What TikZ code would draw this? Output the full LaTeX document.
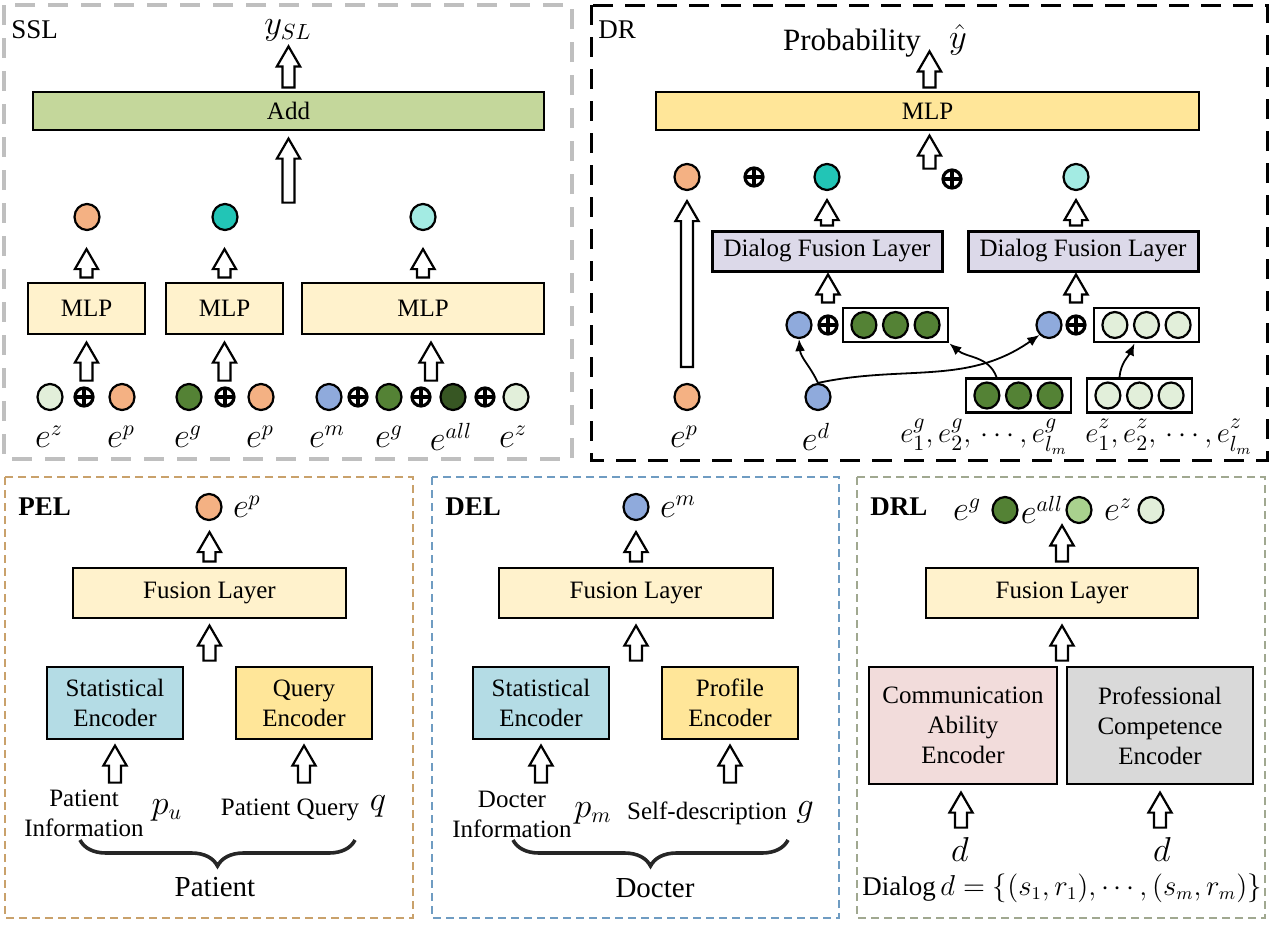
\documentclass[tikz,border=0pt]{standalone}
\usepackage{fontspec}
\setmainfont{Liberation Serif}
\usetikzlibrary{
  arrows.meta, positioning, calc, decorations.pathreplacing,
  shapes.geometric
}
\definecolor{embpeach}{HTML}{F4B183}
\definecolor{embteal}{HTML}{22C5B6}
\definecolor{embaqua}{HTML}{A3EBE3}
\definecolor{embpale}{HTML}{E2EFDA}
\definecolor{embgreen}{HTML}{548235}
\definecolor{embdark}{HTML}{375623}
\definecolor{embmid}{HTML}{A9D18E}
\definecolor{embblue}{HTML}{8FAADC}
\definecolor{boxcream}{HTML}{FFF2CC}
\definecolor{boxgold}{HTML}{FFE699}
\definecolor{boxolive}{HTML}{C4D79B}
\definecolor{boxlilac}{HTML}{DCD9E9}
\definecolor{boxsky}{HTML}{B4DCE5}
\definecolor{boxrose}{HTML}{F2DCDB}
\definecolor{boxgray}{HTML}{D9D9D9}
\definecolor{sslline}{HTML}{BFBFBF}
\definecolor{pelline}{HTML}{C9A16B}
\definecolor{delline}{HTML}{6F9CC2}
\definecolor{drlline}{HTML}{A0A890}

\begin{document}
\begin{tikzpicture}[x=0.5pt, y=-0.5pt,
  block/.style={draw, line width=0.6pt, inner sep=0pt, align=center,
    font=\fontsize{12.5}{15}\selectfont},
  emb/.style={ellipse, draw, line width=1.1pt, minimum width=12.5pt,
    minimum height=13pt, inner sep=0pt},
  addop/.style={circle, draw, line width=1.6pt, minimum size=9pt,
    inner sep=0pt,
    path picture={\draw[line width=1.6pt]
      (path picture bounding box.north) -- (path picture bounding box.south)
      (path picture bounding box.west) -- (path picture bounding box.east);}},
  harrow/.style={draw, fill=white, line width=1.1pt,
    to path={let \p1=(\tikztostart), \p2=(\tikztotarget) in
      (\x1-3pt,\y1) -- (\x1-3pt,\y2-10pt) -- (\x1-5.8pt,\y2-10pt)
      -- (\x1,\y2) -- (\x1+5.8pt,\y2-10pt) -- (\x1+3pt,\y2-10pt)
      -- (\x1+3pt,\y1) -- cycle}},
  link/.style={-{Latex[length=6pt, width=5pt]}, line width=0.9pt},
  lab/.style={inner sep=0pt, font=\fontsize{16}{18}\selectfont},
  txt/.style={inner sep=0pt, align=center,
    font=\fontsize{12.5}{15}\selectfont},
  tag/.style={anchor=west, inner sep=0pt,
    font=\fontsize{13.5}{16}\selectfont},
  grp/.style={draw, line width=1.4pt, minimum width=52.5pt,
    minimum height=17pt, inner sep=0pt},
  brc/.style={decorate, decoration={brace, amplitude=13pt, mirror},
    line width=1.8pt, draw=black!85},
  panel/.style={line width=0.6pt, dash pattern=on 4pt off 2.5pt}
]
  \useasboundingbox (0,0) rectangle (1274,926);

  % SSL
  \draw[sslline, line width=1.7pt, dash pattern=on 10pt off 6.5pt]
    (4,5) rectangle (572,459);
  \node[tag] (ssltag) at (11,30) {SSL};
  \node[lab] (ysl) at (288,30) {$y_{SL}$};
  \node[block, fill=boxolive, minimum width=255.5pt, minimum height=19pt]
    (add) at (288.5,111) {Add};
  \node[block, fill=boxcream, minimum width=58.5pt, minimum height=25.5pt]
    (smlp1) at (86.5,308.5) {MLP};
  \node[block, fill=boxcream, minimum width=58.5pt, minimum height=25.5pt]
    (smlp2) at (224.5,308.5) {MLP};
  \node[block, fill=boxcream, minimum width=121pt, minimum height=25.5pt]
    (smlp3) at (423,308.5) {MLP};
  \node[emb, fill=embpeach] (so1) at (87,217) {};
  \node[emb, fill=embteal] (so2) at (225,217) {};
  \node[emb, fill=embaqua] (so3) at (423,217) {};

  \node[emb, fill=embpale] (si1) at (50,397) {};
  \node[addop] (sp1) at (84,397) {};
  \node[emb, fill=embpeach] (si2) at (122,397) {};
  \node[emb, fill=embgreen] (si3) at (189,397) {};
  \node[addop] (sp2) at (225,397) {};
  \node[emb, fill=embpeach] (si4) at (261,397) {};
  \node[emb, fill=embblue] (si5) at (329,397) {};
  \node[addop] (sp3) at (358,397) {};
  \node[emb, fill=embgreen] (si6) at (389,397) {};
  \node[addop] (sp4) at (421,397) {};
  \node[emb, fill=embdark] (si7) at (453,397) {};
  \node[addop] (sp5) at (485,397) {};
  \node[emb, fill=embpale] (si8) at (516,397) {};

  \node[lab] (sl1) at (49,437) {$e^z$};
  \node[lab] (sl2) at (121,437) {$e^p$};
  \node[lab] (sl3) at (188,437) {$e^g$};
  \node[lab] (sl4) at (260,437) {$e^p$};
  \node[lab] (sl5) at (327,437) {$e^m$};
  \node[lab] (sl6) at (389,437) {$e^g$};
  \node[lab] (sl7) at (451,437) {$e^{all}$};
  \node[lab] (sl8) at (513,437) {$e^z$};

  \draw[harrow] ([yshift=2pt]add.north) to ([yshift=22.5pt]add.north);
  \draw[harrow] ([yshift=-36pt]add.south) to ([yshift=-4pt]add.south);
  \draw[harrow] ([yshift=2.5pt]smlp1.north) to ([yshift=-9pt]so1.south);
  \draw[harrow] ([yshift=2.5pt]smlp2.north) to ([yshift=-9pt]so2.south);
  \draw[harrow] ([yshift=2.5pt]smlp3.north) to ([yshift=-9pt]so3.south);
  \draw[harrow] ([yshift=-23pt]smlp1.south) to ([yshift=-4pt]smlp1.south);
  \draw[harrow] ([yshift=-23pt]smlp2.south) to ([yshift=-4pt]smlp2.south);
  \draw[harrow] ([xshift=4pt,yshift=-23pt]smlp3.south)
    to ([xshift=4pt,yshift=-4pt]smlp3.south);

  % DR
  \draw[black, line width=1.5pt, dash pattern=on 10pt off 6pt]
    (591,5) rectangle (1267,460);
  \node[tag] (drtag) at (598,30) {DR};
  \node[inner sep=0pt, font=\fontsize{15.5}{18}\selectfont]
    (prob) at (852,43) {Probability};
  \node[lab, font=\fontsize{17}{19}\selectfont] (yhat) at (958,40) {$\hat{y}$};
  \node[block, fill=boxgold, minimum width=271.5pt, minimum height=19pt]
    (dmlp) at (927.5,111) {MLP};
  \draw[harrow] ([xshift=1pt,yshift=2pt]dmlp.north)
    to ([xshift=1pt,yshift=20pt]dmlp.north);
  \draw[harrow] ([xshift=1pt,yshift=-19pt]dmlp.south)
    to ([xshift=1pt,yshift=-2.5pt]dmlp.south);

  \node[emb, fill=embpeach] (dpout) at (687,177) {};
  \node[addop] (dplus1) at (754,177) {};
  \node[emb, fill=embteal] (dteal) at (827,177) {};
  \node[addop] (dplus2) at (952,179) {};
  \node[emb, fill=embaqua] (daqua) at (1076,177) {};

  \node[block, fill=boxlilac, line width=1.5pt, minimum width=115pt,
    minimum height=20pt] (dfl1) at (827,251) {Dialog Fusion Layer};
  \node[block, fill=boxlilac, line width=1.5pt, minimum width=115pt,
    minimum height=20pt] (dfl2) at (1083,251) {Dialog Fusion Layer};
  \draw[harrow] ([yshift=2pt]dfl1.north) to ([yshift=-4.5pt]dteal.south);
  \draw[harrow] ([yshift=2pt]daqua.south |- dfl2.north)
    to ([yshift=-4.5pt]daqua.south);

  \node[emb, fill=embblue] (dblue1) at (799,325) {};
  \node[addop] (dplus3) at (828,325) {};
  \node[grp] (gbox1) at (895.5,325) {};
  \foreach \i in {-1,0,1}
    \node[emb, fill=embgreen] at ([xshift=\i*15.8pt]gbox1.center) {};
  \node[emb, fill=embblue] (dblue2) at (1049,325) {};
  \node[addop] (dplus4) at (1076,325) {};
  \node[grp] (lbox1) at (1146.5,325) {};
  \foreach \i in {-1,0,1}
    \node[emb, fill=embpale] at ([xshift=\i*15.8pt]lbox1.center) {};
  \draw[harrow] ([yshift=6pt]dplus3.north) to ([yshift=-1pt]dfl1.south);
  \draw[harrow] ([yshift=6pt]dplus4.north)
    to ([yshift=-1pt]dplus4.north |- dfl2.south);

  \node[emb, fill=embpeach] (dpin) at (687,397) {};
  \node[emb, fill=embblue] (ed) at (818,397) {};
  \node[grp] (gbox2) at (1018.5,395.5) {};
  \foreach \i in {-1,0,1}
    \node[emb, fill=embgreen] at ([xshift=\i*15.8pt]gbox2.center) {};
  \node[grp] (lbox2) at (1139.5,395.5) {};
  \foreach \i in {-1,0,1}
    \node[emb, fill=embpale] at ([xshift=\i*15.8pt]lbox2.center) {};

  \draw[harrow] ([yshift=8pt]dpin.north) to ([yshift=-5pt]dpout.south);
  \draw[link] (ed.north) to[out=115, in=-85] (dblue1.south);
  \draw[link] (ed.north) to[out=12, in=-145] (dblue2.south west);
  \draw[link] ([xshift=-11pt]gbox2.north) to[out=110, in=-40] (gbox1.south east);
  \draw[link] ([xshift=-10pt]lbox2.north) to[out=85, in=-115]
    ([xshift=-6pt]lbox1.south);

  \node[lab] (dlp) at (684,437) {$e^p$};
  \node[lab] (dld) at (816,437) {$e^d$};
  \node[lab, font=\fontsize{15}{17}\selectfont] (dlg) at (984,437)
    {$e_1^g{,}\,e_2^g{,}\,\cdots{,}\,e_{l_m}^g$};
  \node[lab, font=\fontsize{15}{17}\selectfont] (dlz) at (1169,437)
    {$e_1^{z\vphantom{g}}{,}\,e_2^{z\vphantom{g}}{,}\,\cdots{,}\,
      e_{l_m}^{z\vphantom{g}}$};

  % PEL
  \draw[panel, pelline] (5,477) rectangle (413,918);
  \node[tag, font=\fontsize{13.5}{16}\selectfont\bfseries] (peltag)
    at (18,507) {PEL};
  \node[emb, fill=embpeach] (pout) at (209,507) {};
  \node[lab, right=5pt of pout] (pep) {$e^p$};
  \node[block, fill=boxcream, minimum width=136.5pt, minimum height=25pt]
    (pfus) at (209.5,593) {Fusion Layer};
  \node[block, fill=boxsky, minimum width=68pt, minimum height=36pt]
    (pstat) at (115,703) {Statistical\\Encoder};
  \node[block, fill=boxgold, minimum width=68pt, minimum height=36pt]
    (pquery) at (304,703) {Query\\Encoder};
  \draw[harrow] ([yshift=3pt]pfus.north) to ([yshift=-5.5pt]pout.south);
  \draw[harrow] ([yshift=-21pt]pfus.south) to ([yshift=-3.5pt]pfus.south);
  \draw[harrow] ([yshift=-21.5pt]pstat.south) to ([yshift=-3pt]pstat.south);
  \draw[harrow] ([yshift=-21.5pt]pquery.south) to ([yshift=-3pt]pquery.south);
  \node[txt] (pinfo) at (84,813) {Patient\\Information};
  \node[lab] (pu) at (167,810) {$p_u$};
  \node[txt] (pqtext) at (290,810) {Patient Query};
  \node[lab] (pq) at (378,806) {$q$};
  \draw[brc] (80,840) -- (355,840);
  \node[txt, font=\fontsize{14.5}{17}\selectfont] (patient) at (215,887)
    {Patient};

  % DEL
  \draw[panel, delline] (432,477) rectangle (839,918);
  \node[tag, font=\fontsize{13.5}{16}\selectfont\bfseries] (deltag)
    at (445,507) {DEL};
  \node[emb, fill=embblue] (dout) at (636,507) {};
  \node[lab, right=5pt of dout] (dem) {$e^m$};
  \node[block, fill=boxcream, minimum width=137pt, minimum height=25pt]
    (dfus) at (636,593) {Fusion Layer};
  \node[block, fill=boxsky, minimum width=68pt, minimum height=36pt]
    (dstat) at (541,703) {Statistical\\Encoder};
  \node[block, fill=boxgold, minimum width=68pt, minimum height=36pt]
    (dprof) at (730,703) {Profile\\Encoder};
  \draw[harrow] ([yshift=3pt]dfus.north) to ([yshift=-5.5pt]dout.south);
  \draw[harrow] ([yshift=-21pt]dfus.south) to ([yshift=-3.5pt]dfus.south);
  \draw[harrow] ([yshift=-21.5pt]dstat.south) to ([yshift=-3pt]dstat.south);
  \draw[harrow] ([yshift=-21.5pt]dprof.south) to ([yshift=-3pt]dprof.south);
  \node[txt] (dinfo) at (512,814) {Docter\\Information};
  \node[lab] (pm) at (593,813) {$p_m$};
  \node[txt] (dself) at (707,813) {Self-description};
  \node[lab] (dg) at (805,812) {$g$};
  \draw[brc] (513,840) -- (788,840);
  \node[txt, font=\fontsize{14.5}{17}\selectfont] (docter) at (655,888)
    {Docter};

  % DRL
  \draw[panel, drlline] (857,477) rectangle (1265,918);
  \node[tag, font=\fontsize{13.5}{16}\selectfont\bfseries] (drltag)
    at (870,507) {DRL};
  \node[emb, fill=embgreen] (rg) at (1005,510) {};
  \node[lab, left=5pt of rg] (rlg) {$e^g$};
  \node[emb, fill=embmid] (rall) at (1079,510) {};
  \node[lab, left=1pt of rall] (rlall) {$e^{all}$};
  \node[emb, fill=embpale] (rz) at (1151,510) {};
  \node[lab, left=2.5pt of rz] (rlz) {$e^z$};
  \node[block, fill=boxcream, minimum width=136pt, minimum height=25pt]
    (rfus) at (1062,593) {Fusion Layer};
  \node[block, fill=boxrose, minimum width=94pt, minimum height=58.5pt]
    (rcomm) at (963,725.5) {Communication\\Ability\\Encoder};
  \node[block, fill=boxgray, minimum width=93pt, minimum height=58.5pt]
    (rprof) at (1160,725.5) {Professional\\Competence\\Encoder};
  \draw[harrow] ([yshift=3pt]rfus.north) to ([yshift=21pt]rfus.north);
  \draw[harrow] ([yshift=-21pt]rfus.south) to ([yshift=-3.5pt]rfus.south);
  \draw[harrow] ([xshift=-1pt,yshift=-21.5pt]rcomm.south)
    to ([xshift=-1pt,yshift=-4pt]rcomm.south);
  \draw[harrow] ([yshift=-21.5pt]rprof.south) to ([yshift=-4pt]rprof.south);
  \node[lab] (rd1) at (960,849) {$d$};
  \node[lab] (rd2) at (1162,849) {$d$};
  \node[txt, font=\fontsize{13.5}{17}\selectfont] (rdialog) at (1062,888)
    {Dialog\,$d=\{(s_1,r_1),\cdots,(s_m,r_m)\}$};
\end{tikzpicture}
\end{document}
